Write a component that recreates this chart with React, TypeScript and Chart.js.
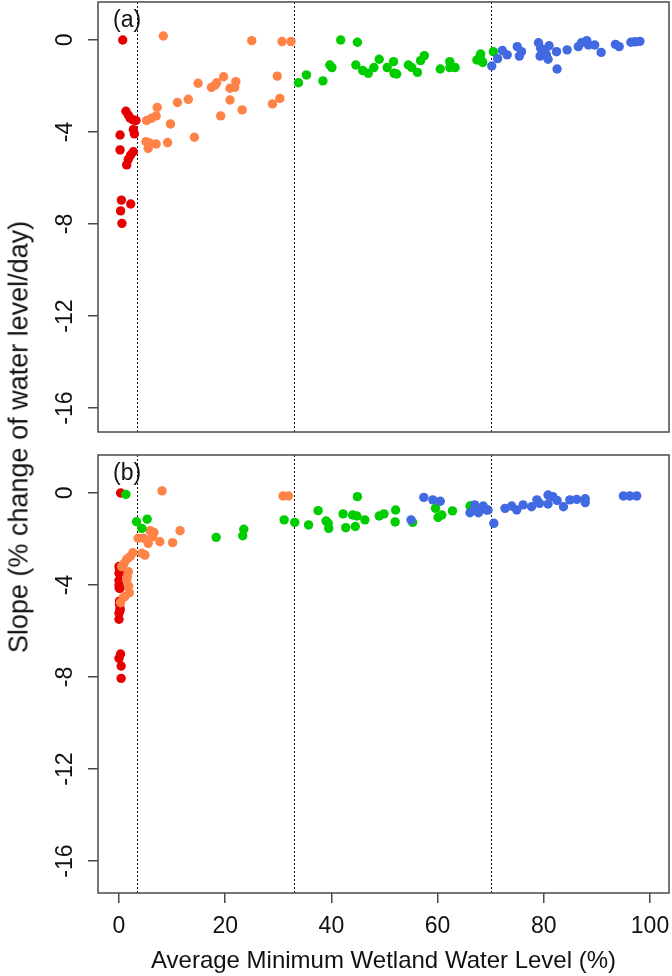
import React, { useEffect, useRef } from 'react';
import { Chart, registerables } from 'chart.js';
Chart.register(...registerables);

// ---- data (x = average minimum wetland water level %, y = slope) ----
const A_RED: [number, number][] = [
  [0.7, 0.0], [1.3, -3.1], [1.75, -3.26], [2.1, -3.4], [2.7, -3.48], [3.2, -3.5],
  [0.2, -4.13], [2.7, -3.9], [2.9, -4.08], [0.2, -4.78], [2.7, -4.86], [2.2, -5.0],
  [1.75, -5.19], [1.45, -5.43], [0.45, -6.96], [2.2, -7.13], [0.3, -7.43], [0.55, -7.97],
];
const A_ORANGE: [number, number][] = [
  [8.35, 0.17], [25.0, -0.03], [30.7, -0.07], [32.4, -0.07], [14.9, -1.88], [17.4, -2.06],
  [18.1, -1.96], [18.4, -1.86], [19.7, -1.6], [20.9, -2.1], [21.8, -2.06], [22.0, -1.81],
  [20.9, -2.61], [13.05, -2.58], [11.0, -2.72], [7.2, -2.93], [23.2, -3.04], [19.15, -3.3],
  [7.0, -3.3], [6.15, -3.4], [5.2, -3.5], [9.7, -3.65], [14.2, -4.23], [5.1, -4.42],
  [5.85, -4.49], [7.0, -4.52], [9.15, -4.46], [5.5, -4.71], [29.8, -1.57], [28.9, -2.78],
  [30.3, -2.54],
];
const A_GREEN: [number, number][] = [
  [33.8, -1.86], [35.3, -1.52], [38.4, -1.78], [39.7, -1.09], [40.1, -1.2], [41.75, 0.0],
  [44.9, -0.1], [44.6, -1.09], [45.9, -1.33], [46.95, -1.45], [48.0, -1.2], [49.0, -0.84],
  [50.5, -1.2], [51.7, -0.94], [51.8, -1.45], [52.3, -1.48], [54.5, -1.09], [55.1, -1.19],
  [56.2, -1.41], [56.8, -0.9], [57.5, -0.68], [60.5, -1.26], [62.3, -0.94], [62.3, -1.2],
  [63.3, -1.2], [67.4, -0.87], [68.1, -0.61], [68.4, -0.94], [68.0, -0.72], [70.5, -0.51],
  [68.5, -0.98],
];
const A_BLUE: [number, number][] = [
  [70.2, -1.13], [71.3, -0.81], [72.2, -0.46], [73.1, -0.65], [75.0, -0.29], [75.8, -0.51],
  [75.4, -0.7], [79.0, -0.12], [79.4, -0.36], [80.2, -0.43], [81.0, -0.25], [79.3, -0.7],
  [80.5, -0.65], [80.8, -0.84], [82.4, -0.51], [82.5, -1.26], [84.4, -0.43], [86.5, -0.29],
  [87.1, -0.12], [88.1, -0.03], [88.4, -0.22], [89.6, -0.22], [90.8, -0.54], [93.5, -0.19],
  [94.2, -0.29], [96.4, -0.1], [97.2, -0.08], [98.1, -0.06], [79.9, -0.51],
];

const B_RED: [number, number][] = [
  [0.3, 0.0], [0.0, -3.2], [0.1, -3.35], [0.0, -3.49], [0.0, -3.8], [0.0, -4.0],
  [0.05, -4.14], [0.2, -4.14], [0.1, -4.7], [0.1, -4.85], [0.2, -5.01], [0.2, -5.1],
  [0.0, -5.23], [0.0, -5.49], [0.3, -7.0], [0.0, -7.19], [0.4, -7.52], [0.4, -8.06],
];
const B_ORANGE: [number, number][] = [
  [8.1, 0.09], [5.85, -1.64], [11.5, -1.64], [3.6, -1.97], [4.6, -1.97], [5.5, -2.04],
  [6.35, -1.9], [7.7, -2.12], [10.1, -2.16], [5.5, -2.19], [4.3, -2.62], [4.9, -2.7],
  [2.1, -2.77], [1.45, -2.88], [0.95, -3.06], [0.5, -3.2], [1.75, -3.42], [1.55, -3.64],
  [1.45, -3.78], [1.95, -4.33], [1.1, -4.5], [0.3, -4.77], [30.9, -0.13], [31.9, -0.13],
  [2.6, -2.6], [6.6, -1.72], [1.8, -4.05], [0.8, -4.55],
];
const B_GREEN: [number, number][] = [
  [1.3, -0.06], [3.3, -1.25], [5.3, -1.14], [4.3, -1.54], [18.3, -1.93], [23.5, -1.58],
  [23.3, -1.86], [31.1, -1.17], [33.1, -1.28], [35.7, -1.39], [37.5, -0.77], [39.0, -1.22],
  [39.4, -1.32], [39.5, -1.54], [42.2, -0.91], [42.7, -1.51], [44.0, -0.96], [44.8, -1.0],
  [44.9, -0.16], [44.5, -1.46], [46.3, -1.17], [49.0, -1.0], [49.9, -0.91], [52.1, -0.74],
  [52.0, -1.26], [55.3, -1.28], [59.6, -0.67], [60.1, -1.06], [60.8, -0.96], [62.8, -0.78],
  [66.1, -0.57], [66.4, -0.57],
];
const B_BLUE: [number, number][] = [
  [55.0, -1.17], [57.4, -0.19], [59.1, -0.3], [60.5, -0.36], [67.0, -0.52], [66.1, -0.86],
  [67.7, -0.86], [68.6, -0.57], [69.2, -0.74], [67.4, -0.74], [69.5, -0.74], [70.6, -1.32],
  [72.7, -0.67], [73.95, -0.57], [74.9, -0.74], [76.1, -0.52], [77.7, -0.6], [78.7, -0.3],
  [79.2, -0.45], [80.8, -0.09], [81.7, -0.16], [80.8, -0.48], [82.5, -0.33], [83.7, -0.6],
  [84.9, -0.3], [86.2, -0.28], [87.8, -0.25], [87.8, -0.42], [95.0, -0.13], [96.2, -0.13],
  [97.5, -0.13],
];

const THRESHOLDS = [3.3, 33, 70];
const X_TICKS = [0, 20, 40, 60, 80, 100];
const Y_TICKS = [0, -4, -8, -12, -16];
const X_LABEL = 'Average Minimum Wetland Water Level (%)';
const Y_LABEL = 'Slope (% change of water level/day)';

const COLORS = { red: '#E60000', orange: '#FF8247', green: '#00CD00', blue: '#4169E1' };
const FONT = '"Liberation Sans", Arial, Helvetica, sans-serif';
const AXIS_COLOR = '#4a4a4a';

function mkDatasets(red: [number, number][], orange: [number, number][], green: [number, number][], blue: [number, number][]) {
  const mk = (pts: [number, number][], color: string, order: number) => ({
    data: pts.map(([x, y]) => ({ x, y })),
    backgroundColor: color,
    borderWidth: 0,
    pointRadius: 4.7,
    pointHoverRadius: 4.7,
    order,
  });
  return [mk(red, COLORS.red, 4), mk(orange, COLORS.orange, 3), mk(green, COLORS.green, 2), mk(blue, COLORS.blue, 1)];
}

function panelPlugin(label: string) {
  return {
    id: 'panelDeco' + label.replace(/\W/g, ''),
    beforeDatasetsDraw(chart: any) {
      const { ctx, chartArea, scales } = chart;
      const { top, bottom, left } = chartArea;
      ctx.save();
      ctx.strokeStyle = '#111';
      ctx.lineWidth = 1;
      ctx.setLineDash([2, 2]);
      THRESHOLDS.forEach((v) => {
        const px = Math.round(scales.x.getPixelForValue(v)) + 0.5;
        ctx.beginPath();
        ctx.moveTo(px, top);
        ctx.lineTo(px, bottom);
        ctx.stroke();
      });
      ctx.setLineDash([]);
      ctx.fillStyle = '#111';
      ctx.font = `23px ${FONT}`;
      ctx.textAlign = 'left';
      ctx.textBaseline = 'middle';
      ctx.fillText(label, left + 15, top + 19);
      ctx.restore();
    },
    afterDraw(chart: any) {
      const { ctx, chartArea } = chart;
      ctx.save();
      ctx.strokeStyle = AXIS_COLOR;
      ctx.lineWidth = 1.5;
      ctx.strokeRect(chartArea.left, chartArea.top, chartArea.right - chartArea.left, chartArea.bottom - chartArea.top);
      ctx.restore();
    },
  };
}

function yAxis(min: number, max: number) {
  return {
    type: 'linear',
    min,
    max,
    afterBuildTicks: (s: any) => { s.ticks = Y_TICKS.map((v) => ({ value: v })); },
    afterFit: (s: any) => { s.width = 98; s.paddingTop = 0; s.paddingBottom = 0; s.paddingLeft = 0; s.paddingRight = 0; },
    grid: { drawOnChartArea: false, drawTicks: true, tickLength: 10, color: AXIS_COLOR, tickColor: AXIS_COLOR, lineWidth: 1.5 },
    border: { display: false },
    ticks: {
      minRotation: 90,
      maxRotation: 90,
      crossAlign: 'center',
      padding: 6,
      color: '#111',
      font: { family: FONT, size: 23 },
      callback: (v: any) => String(v),
    },
  };
}

const X_MIN = -3.955;
const X_MAX = 103.58;

function App() {
  const refA = useRef<HTMLCanvasElement>(null);
  const refB = useRef<HTMLCanvasElement>(null);

  useEffect(() => {
    const common = {
      animation: false,
      responsive: false,
      plugins: { legend: { display: false }, tooltip: { enabled: false }, title: { display: false } },
      events: [],
    };
    const chartA = new Chart(refA.current!, {
      type: 'scatter',
      data: { datasets: mkDatasets(A_RED, A_ORANGE, A_GREEN, A_BLUE) as any },
      options: {
        ...common,
        layout: { autoPadding: false, padding: { top: 2, right: 3, bottom: 8, left: 0 } },
        scales: {
          x: { type: 'linear', min: X_MIN, max: X_MAX, display: false },
          y: yAxis(-17.04, 1.65),
        },
      } as any,
      plugins: [panelPlugin('(a)')],
    });
    const chartB = new Chart(refB.current!, {
      type: 'scatter',
      data: { datasets: mkDatasets(B_RED, B_ORANGE, B_GREEN, B_BLUE) as any },
      options: {
        ...common,
        layout: { autoPadding: false, padding: { top: 10, right: 3, bottom: 0, left: 0 } },
        scales: {
          x: {
            type: 'linear',
            min: X_MIN,
            max: X_MAX,
            afterBuildTicks: (s: any) => { s.ticks = X_TICKS.map((v) => ({ value: v })); },
            afterFit: (s: any) => { s.height = 83; s.paddingTop = 0; s.paddingBottom = 0; s.paddingLeft = 0; s.paddingRight = 0; },
            grid: { drawOnChartArea: false, drawTicks: true, tickLength: 10, color: AXIS_COLOR, tickColor: AXIS_COLOR, lineWidth: 1.5 },
            border: { display: false },
            ticks: { padding: 10, color: '#111', font: { family: FONT, size: 23 }, maxRotation: 0, callback: (v: any) => String(v) },
            title: {
              display: true,
              text: X_LABEL,
              color: '#111',
              font: { family: FONT, size: 24, lineHeight: 1 },
              padding: { top: 0, bottom: 3 },
            },
          },
          y: yAxis(-17.39, 1.65),
        },
      } as any,
      plugins: [panelPlugin('(b)')],
    });
    return () => { chartA.destroy(); chartB.destroy(); };
  }, []);

  return (
    <div style={{ position: 'fixed', left: 0, top: 0, width: 672, height: 976, background: '#fff', overflow: 'hidden' }}>
      <canvas ref={refA} width={672} height={440} style={{ position: 'absolute', left: 0, top: 0, width: 672, height: 440 }} />
      <canvas ref={refB} width={672} height={531} style={{ position: 'absolute', left: 0, top: 445, width: 672, height: 531 }} />
      <div
        style={{
          position: 'absolute',
          left: 19,
          top: 437,
          transform: 'translate(-50%, -50%) rotate(-90deg)',
          whiteSpace: 'nowrap',
          fontFamily: FONT,
          fontSize: 27,
          color: '#111',
          lineHeight: 1,
        }}
      >
        {Y_LABEL}
      </div>
    </div>
  );
}

export default App;
